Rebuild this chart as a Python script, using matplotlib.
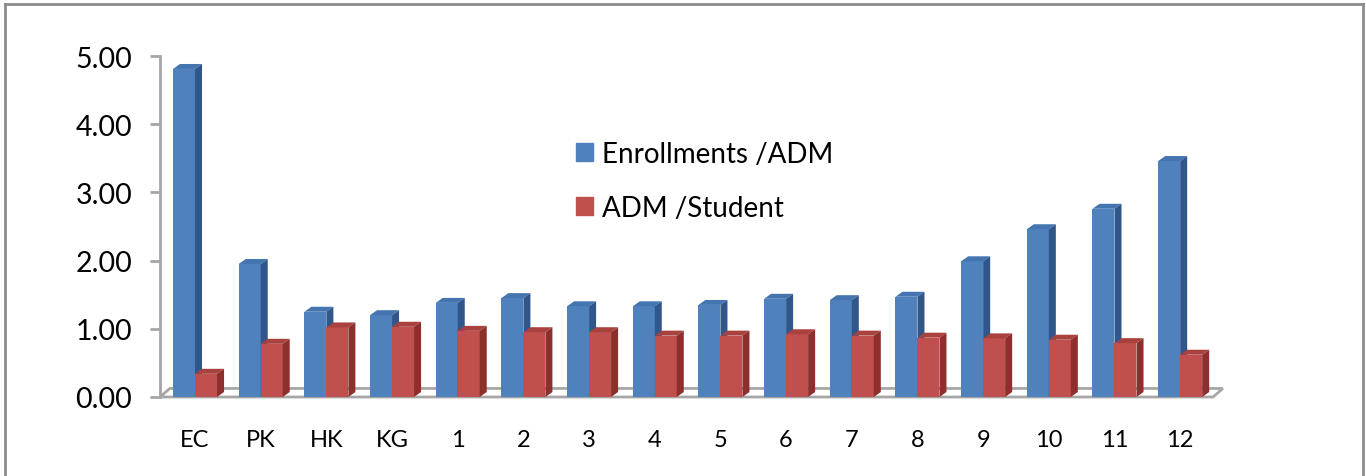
import matplotlib
matplotlib.use("Agg")
import matplotlib.pyplot as plt
from matplotlib.patches import Polygon, Rectangle
from matplotlib.lines import Line2D
import numpy as np

categories = ["EC", "PK", "HK", "KG", "1", "2", "3", "4", "5", "6", "7", "8", "9", "10", "11", "12"]
enroll_adm = [4.81, 1.95, 1.25, 1.20, 1.38, 1.45, 1.33, 1.33, 1.35, 1.44, 1.42, 1.47, 1.99, 2.46, 2.76, 3.46]
adm_student = [0.34, 0.78, 1.02, 1.03, 0.97, 0.95, 0.95, 0.90, 0.90, 0.92, 0.90, 0.87, 0.86, 0.84, 0.79, 0.62]
series_names = ["Enrollments /ADM", "ADM /Student"]

plt.rcParams['font.family'] = ['Lato', 'DejaVu Sans']

W, H = 1366, 477
fig = plt.figure(figsize=(W / 100, H / 100), dpi=100)

# axes placed in pixel terms of the reference
ax_left, ax_right, ax_bottom, ax_top = 160, 1213, 398, 57
ax = fig.add_axes([ax_left / W, (H - ax_bottom) / H, (ax_right - ax_left) / W, (ax_bottom - ax_top) / H])

x = np.arange(len(categories))
bw = 0.335
xmin, xmax = -0.533, 15.5
ax.set_xlim(xmin, xmax)
ax.set_ylim(0, 5)

# depth offsets of the 3d look, in data units
dx, dy = 0.107, 0.073
fdx, fdy = 0.15, 0.125

styles = [
    ("#4F81BD", "#4475B0", "#30568A"),
    ("#C0504D", "#A9413E", "#8C2F2D"),
]

# floor
floor = Polygon([(xmin, 0), (xmax, 0), (xmax + fdx, fdy), (xmin + fdx, fdy)],
                closed=True, facecolor="white", edgecolor="#A6A6A6", lw=2,
                zorder=1, clip_on=False)
ax.add_patch(floor)

for i in range(len(categories)):
    for s, vals in enumerate([enroll_adm, adm_student]):
        front, top, side = styles[s]
        x0 = x[i] - bw if s == 0 else x[i]
        v = vals[i]
        z = 2 + i * 2 + s
        ax.bar(x0, v, width=bw, align="edge", color=front, zorder=z)
        ax.add_patch(Polygon([(x0, v), (x0 + bw, v), (x0 + bw + dx, v + dy), (x0 + dx, v + dy)],
                             closed=True, facecolor=top, edgecolor="none", zorder=z, clip_on=False))
        ax.add_patch(Polygon([(x0 + bw, 0), (x0 + bw + dx, dy), (x0 + bw + dx, v + dy), (x0 + bw, v)],
                             closed=True, facecolor=side, edgecolor="none", zorder=z, clip_on=False))

for sp in ["top", "right", "bottom"]:
    ax.spines[sp].set_visible(False)
ax.spines["left"].set_color("#A6A6A6")
ax.spines["left"].set_linewidth(2)
ax.spines["left"].set_zorder(1)

ax.set_yticks(np.arange(0, 5.01, 1.0))
ax.set_yticklabels(["%.2f" % t for t in np.arange(0, 5.01, 1.0)], fontsize=20.5)
ax.tick_params(axis="y", length=7, width=2, color="#A6A6A6", pad=13)
ax.set_xticks(x)
ax.set_xticklabels(categories, fontsize=17)
ax.tick_params(axis="x", length=0, pad=23)

handles = [Rectangle((0, 0), 1, 1, color=styles[0][0]), Rectangle((0, 0), 1, 1, color=styles[1][0])]
fig.legend(handles, series_names, loc="upper left", bbox_to_anchor=(576 / W, 1 - 142 / H),
           frameon=False, fontsize=20, handlelength=0.6, handleheight=0.6,
           handletextpad=0.35, labelspacing=1.0, borderpad=0, borderaxespad=0)

# outer frame of the picture
fig.add_artist(Line2D([5 / W, 5 / W], [0, 1 - 5 / H], color="#8C8C8C", lw=2))
fig.add_artist(Line2D([5 / W, 1363 / W], [1 - 5 / H, 1 - 5 / H], color="#8C8C8C", lw=2))
fig.add_artist(Line2D([1363 / W, 1363 / W], [0, 1 - 5 / H], color="#8C8C8C", lw=2))

fig.savefig("out.png", dpi=100)
